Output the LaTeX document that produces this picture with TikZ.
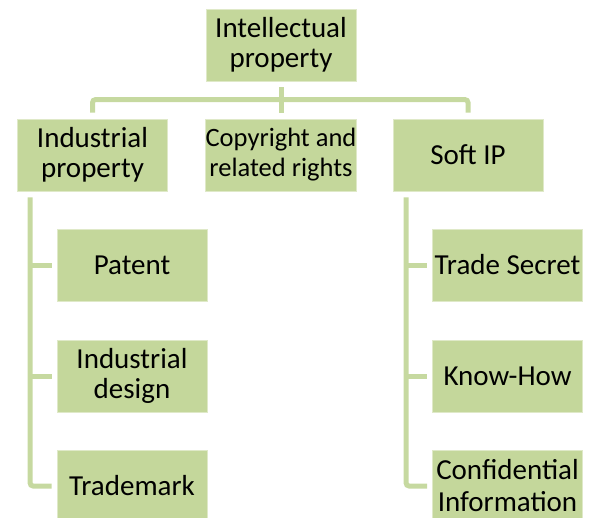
\documentclass[tikz,border=0pt]{standalone}
\usepackage{fontspec}
\setmainfont{Carlito}
\definecolor{boxgreen}{HTML}{C4D79B}
\definecolor{linkgreen}{HTML}{C6D9A0}
\begin{document}
\begin{tikzpicture}[x=1bp,y=-1bp,
		box/.style={fill=boxgreen,draw=boxgreen!55!white,line width=0.8bp,minimum width=150bp,minimum height=72bp,inner sep=0pt,align=center,font=\fontsize{29bp}{30bp}\selectfont},
		link/.style={draw=linkgreen,line width=5bp}]
	\clip (0,0) rectangle (590,518);
	\useasboundingbox (0,0) rectangle (590,518);
	\node[box] (ip) at (281,45) {Intellectual\\property};
	\node[box] (ind) at (92.5,155) {Industrial\\property};
	\node[box,font=\fontsize{26.5bp}{30bp}\selectfont] (copy) at (281,155) {Copyright and\\related rights};
	\node[box] (soft) at (468,155) {Soft IP};
	\node[box] (pat) at (132,265) {Patent};
	\node[box] (des) at (132,376) {Industrial\\design};
	\node[box] (tm) at (132,486) {Trademark};
	\node[box] (trade) at (507.5,265) {Trade Secret};
	\node[box] (know) at (507.5,376) {Know-How};
	\node[box,font=\fontsize{29bp}{32bp}\selectfont] (conf) at (507.5,486) {Confidential\\Information};
	\coordinate (lsp) at ([xshift=13bp,yshift=-6bp]ind.south west);
	\coordinate (rsp) at ([xshift=13.5bp,yshift=-6bp]soft.south west);
	\draw[link] ([yshift=-6bp]ip.south) -- ([yshift=6bp]copy.north);
	\draw[link,rounded corners=3bp] ([yshift=6bp]ind.north) |- ([yshift=19bp]soft.north) -- ([yshift=6bp]soft.north);
	\draw[link,rounded corners=3bp] (lsp) |- ([xshift=-5bp]tm.west);
	\draw[link] (lsp |- pat.west) -- ([xshift=-5bp]pat.west);
	\draw[link] (lsp |- des.west) -- ([xshift=-5bp]des.west);
	\draw[link,rounded corners=3bp] (rsp) |- ([xshift=-5bp]conf.west);
	\draw[link] (rsp |- trade.west) -- ([xshift=-5bp]trade.west);
	\draw[link] (rsp |- know.west) -- ([xshift=-5bp]know.west);
\end{tikzpicture}
\end{document}
